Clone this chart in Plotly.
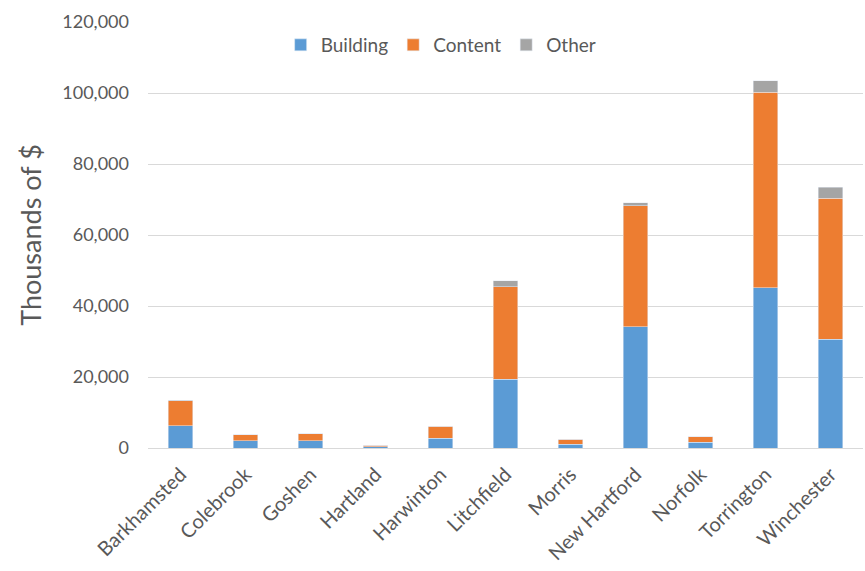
import plotly.graph_objects as go

towns = ["Barkhamsted", "Colebrook", "Goshen", "Hartland", "Harwinton", "Litchfield",
         "Morris", "New Hartford", "Norfolk", "Torrington", "Winchester"]
building = [6.2, 2.1, 2.0, 0.3, 2.8, 19.3, 1.1, 34.2, 1.6, 45.1, 30.6]
content = [7.1, 1.6, 2.0, 0.5, 3.3, 26.1, 1.4, 34.1, 1.6, 55.1, 39.8]
other = [0.1, 0.0, 0.0, 0.0, 0.0, 1.7, 0.0, 0.8, 0.0, 3.3, 3.1]
building = [v * 1000 for v in building]
content = [v * 1000 for v in content]
other = [v * 1000 for v in other]
y_ticks = [0, 20000, 40000, 60000, 80000, 100000, 120000]

FONT = "Lato"
fig = go.Figure()
fig.add_bar(x=towns, y=building, name="Building", marker_color="#5B9BD5")
fig.add_bar(x=towns, y=content, name="Content", marker_color="#ED7D31")
fig.add_bar(x=towns, y=other, name="Other", marker_color="#A5A5A5")

fig.update_layout(
    barmode="stack",
    bargap=0.62,
    width=865, height=571,
    margin=dict(l=148, r=2, t=22, b=123),
    paper_bgcolor="white", plot_bgcolor="white",
    font=dict(family=FONT, color="#595959", size=18),
    legend=dict(orientation="h", traceorder="normal", x=0.41, xanchor="center", y=0.946,
                yanchor="middle", font=dict(size=19, color="#595959"), itemwidth=30,
                bgcolor="rgba(255,255,255,0)"),
    yaxis=dict(range=[0, 120000], tickvals=y_ticks, tickformat=",", showgrid=True,
               gridcolor="#D9D9D9", gridwidth=1, zeroline=False,
               title=dict(text="Thousands of $", font=dict(size=27, color="#595959"), standoff=12),
               ticks="", tickfont=dict(size=18), ticklabelstandoff=18),
    xaxis=dict(tickangle=-45, showline=True, linecolor="#D9D9D9", linewidth=1,
               tickfont=dict(size=20), ticks="", ticklabelstandoff=6, automargin=False),
)
fig.write_html("out.html")
